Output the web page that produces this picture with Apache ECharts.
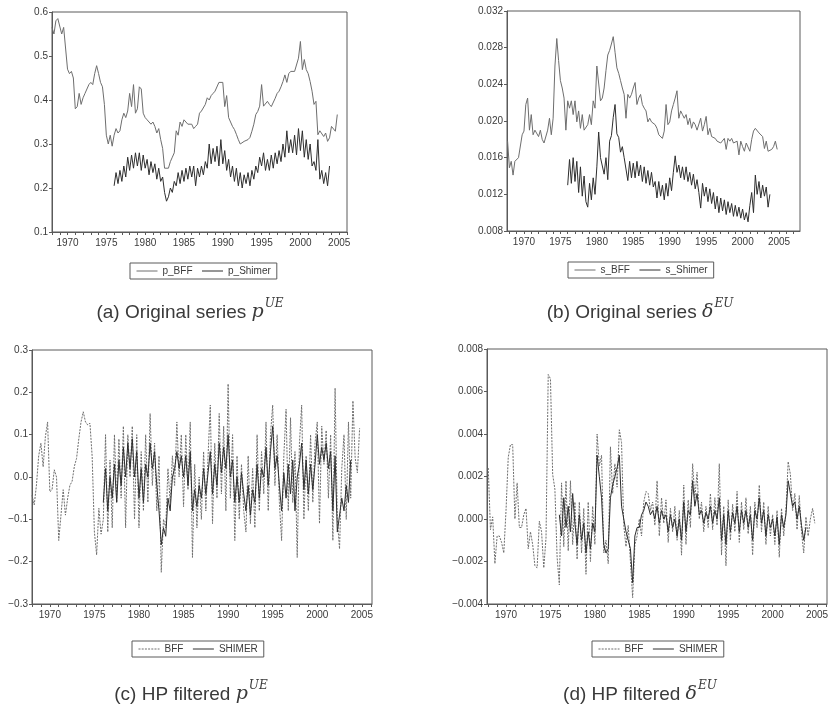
<!DOCTYPE html>
<html><head><meta charset="utf-8">
<script src="https://cdn.jsdelivr.net/npm/echarts@6/dist/echarts.min.js"></script>
<style>html,body{margin:0;padding:0;background:#fff}#c{width:834px;height:708px}</style>
</head><body><div id="c"></div>
<script>
// ---------- tick labels ----------
const yearLabels = [1970, 1975, 1980, 1985, 1990, 1995, 2000, 2005];
const legendA = ['p_BFF', 'p_Shimer'];
const legendB = ['s_BFF', 's_Shimer'];
const legendCD = ['BFF', 'SHIMER'];
const captionA = '(a) Original series ';
const captionB = '(b) Original series ';
const captionC = '(c) HP filtered ';
const captionD = '(d) HP filtered ';

// ---------- data (quarterly observations, first observation year given) ----------
const pBFFStart = 1968.0;
const pBFF = [
0.565,0.55,0.58,0.585, 0.585,0.55,0.565,0.565, 0.47,0.46,0.465,0.45, 0.38,0.385,0.415,0.39,
0.405,0.415,0.425,0.435, 0.44,0.435,0.46,0.478, 0.46,0.44,0.43,0.39, 0.32,0.3,0.32,0.295,
0.32,0.335,0.325,0.33, 0.355,0.37,0.36,0.375, 0.415,0.385,0.435,0.37, 0.38,0.43,0.425,0.37,
0.36,0.355,0.35,0.345, 0.35,0.34,0.325,0.335, 0.31,0.29,0.245,0.245, 0.245,0.26,0.27,0.28,
0.33,0.32,0.35,0.34, 0.355,0.35,0.345,0.345, 0.345,0.335,0.34,0.345, 0.37,0.375,0.375,0.39,
0.405,0.4,0.41,0.415, 0.42,0.42,0.44,0.44, 0.44,0.385,0.41,0.36, 0.35,0.34,0.333,0.322,
0.31,0.3,0.298,0.306, 0.306,0.31,0.315,0.329, 0.345,0.367,0.374,0.386, 0.435,0.386,0.39,0.397,
0.39,0.385,0.382,0.404, 0.415,0.42,0.43,0.442, 0.457,0.44,0.46,0.465, 0.469,0.465,0.461,0.495,
0.533,0.469,0.492,0.469, 0.46,0.442,0.42,0.39, 0.397,0.321,0.33,0.329, 0.317,0.325,0.306,0.314,
0.34,0.34,0.329,0.367];
const pShimerStart = 1976.0;
const pShimer = [
0.205,0.235,0.21,0.24, 0.215,0.25,0.225,0.27, 0.24,0.275,0.245,0.28, 0.25,0.28,0.24,0.275,
0.245,0.265,0.23,0.26, 0.235,0.255,0.22,0.245, 0.215,0.225,0.19,0.17, 0.18,0.2,0.19,0.215,
0.205,0.235,0.21,0.24, 0.215,0.245,0.22,0.25, 0.225,0.25,0.205,0.245, 0.225,0.25,0.23,0.26,
0.245,0.3,0.255,0.29, 0.26,0.295,0.25,0.31, 0.255,0.285,0.24,0.265, 0.225,0.25,0.215,0.245,
0.205,0.235,0.2,0.23, 0.21,0.235,0.205,0.24, 0.22,0.25,0.235,0.27, 0.25,0.28,0.24,0.265,
0.24,0.275,0.245,0.28, 0.255,0.285,0.26,0.3, 0.27,0.33,0.28,0.31, 0.28,0.32,0.275,0.335,
0.285,0.33,0.27,0.31, 0.265,0.3,0.25,0.26, 0.24,0.31,0.22,0.24, 0.21,0.235,0.205,0.25];

const sBFFStart = 1967.75;
const sBFF = [0.0178,
0.0149,0.0156,0.0141,0.0156, 0.0156,0.016,0.016,0.0185, 0.0189,0.0218,0.0225,0.019, 0.0207,0.0185,0.019,0.0192,
0.0183,0.019,0.018,0.0176, 0.0178,0.019,0.0203,0.0185, 0.0203,0.026,0.029,0.0266, 0.0244,0.0236,0.0225,0.019,
0.0222,0.0214,0.0222,0.0207, 0.0222,0.0199,0.0211,0.0192, 0.0207,0.019,0.019,0.0196, 0.0207,0.0196,0.0222,0.0214,
0.026,0.0258,0.0222,0.0225, 0.0236,0.0255,0.0272,0.0277, 0.0284,0.0292,0.0275,0.0258, 0.0252,0.0244,0.0236,0.0229,
0.0203,0.0229,0.0225,0.0229, 0.0236,0.0242,0.0218,0.0225, 0.0229,0.0218,0.0214,0.0211, 0.0199,0.0203,0.0199,0.0199,
0.0196,0.0192,0.0185,0.0185, 0.0181,0.0189,0.0218,0.0196, 0.0199,0.0211,0.0218,0.0225, 0.0233,0.0203,0.0211,0.0207,
0.0203,0.0207,0.0196,0.0203, 0.0192,0.0199,0.0196,0.019, 0.0189,0.0203,0.0189,0.0196, 0.0205,0.0185,0.0192,0.0183,
0.0183,0.0181,0.0178,0.018, 0.0176,0.0174,0.0181,0.0169, 0.0181,0.0178,0.0181,0.0176, 0.0174,0.0178,0.0163,0.0178,
0.0172,0.0167,0.0176,0.0174, 0.0167,0.018,0.0189,0.0192, 0.0192,0.0187,0.0185,0.0183, 0.017,0.0178,0.0167,0.0169,
0.0169,0.0172,0.0178,0.0169];
const sShimerStart = 1976.0;
const sShimer = [
0.0130,0.0158,0.0132,0.0160, 0.0134,0.0156,0.0122,0.0150, 0.0118,0.0140,0.0112,0.0106, 0.0132,0.0114,0.0138,0.0120,
0.0150,0.0188,0.0160,0.0162, 0.0142,0.0160,0.0136,0.0178, 0.0184,0.0204,0.0218,0.0186, 0.0182,0.0166,0.0172,0.0160,
0.0162,0.0135,0.0156,0.0138, 0.0154,0.0138,0.0156,0.0140, 0.0152,0.0134,0.0150,0.0132, 0.0146,0.0130,0.0144,0.0128,
0.0134,0.0116,0.0134,0.0118, 0.0130,0.0114,0.0132,0.0118, 0.0138,0.0124,0.0144,0.0162, 0.0144,0.0152,0.0138,0.0150,
0.0136,0.0150,0.0134,0.0144, 0.0130,0.0142,0.0126,0.0136, 0.0122,0.0105,0.0132,0.0118, 0.0128,0.0112,0.0126,0.0110,
0.0122,0.0104,0.0118,0.0100, 0.0116,0.0102,0.0114,0.0098, 0.0112,0.0100,0.0110,0.0096, 0.0108,0.0096,0.0106,0.0094,
0.0104,0.0092,0.0100,0.0090, 0.0108,0.0122,0.0100,0.0141, 0.0120,0.0134,0.0116,0.0130, 0.0118,0.0128,0.0106,0.0120];

const hpPBFFStart = 1968.0;
const hpPBFF = [
-0.043,-0.066,-0.019,0.05, 0.08,0.024,0.095,0.13, -0.035,-0.03,0.017,0.0, -0.15,-0.09,-0.03,-0.09,
-0.05,-0.02,-0.01,0.025, 0.044,0.09,0.13,0.154, 0.13,0.123,0.127,0.048, -0.13,-0.184,-0.074,-0.135,
-0.10,0.10,-0.13,0.04, -0.12,0.10,-0.06,0.09, -0.05,0.12,-0.12,0.10, 0.0,0.12,-0.10,0.10,
-0.12,0.06,-0.08,0.10, -0.06,0.15,-0.02,0.08, -0.08,0.05,-0.225,-0.10, -0.12,0.02,-0.06,0.05,
-0.02,0.13,0.0,0.10, -0.07,0.10,-0.03,0.13, -0.19,0.03,-0.12,0.0, -0.10,0.06,-0.08,0.05,
0.17,-0.11,0.08,-0.05, 0.15,-0.04,0.12,-0.08, 0.22,-0.05,0.10,-0.15, 0.05,-0.10,0.03,-0.08,
-0.13,0.05,-0.11,0.02, -0.12,0.10,-0.08,0.06, -0.04,0.13,-0.08,0.10, 0.17,-0.02,0.10,-0.06,
-0.15,0.05,0.16,-0.08, 0.14,-0.06,0.06,-0.19, 0.08,0.17,-0.10,0.05, -0.08,0.10,-0.06,0.08,
0.13,-0.11,0.12,0.03, 0.11,-0.05,0.10,-0.15, 0.21,-0.10,-0.17,0.02, 0.10,-0.10,0.13,-0.05,
0.18,0.045,0.01,0.115];
const hpPShimerStart = 1976.0;
const hpPShimer = [
-0.06,0.02,-0.08,0.0, -0.05,0.03,-0.06,0.04, -0.02,0.07,0.0,0.08, 0.02,0.09,0.0,0.06,
-0.05,0.02,-0.06,0.03, 0.0,0.08,0.02,0.06, -0.02,-0.08,-0.16,-0.12, -0.14,-0.05,-0.08,0.0,
0.02,0.06,0.02,0.05, 0.0,0.05,-0.02,0.06, -0.08,-0.03,-0.07,-0.02, -0.05,0.02,-0.04,0.01,
0.06,-0.04,0.03,-0.02, 0.08,0.01,0.07,0.02, 0.10,0.0,0.04,-0.06, 0.0,-0.06,0.01,-0.04,
-0.08,-0.02,-0.09,-0.03, -0.06,0.03,-0.05,0.02, 0.0,0.07,-0.02,0.06, 0.12,0.02,0.05,-0.02,
-0.08,0.01,-0.05,0.03, -0.04,0.04,-0.08,0.0, 0.03,0.08,-0.03,0.04, -0.04,0.03,-0.03,0.03,
0.10,0.03,0.07,0.04, 0.08,0.02,0.06,-0.08, 0.05,-0.13,-0.09,-0.05, -0.08,-0.02,-0.06,0.04];

const hpSBFFStart = 1968.0;
const hpSBFF = [
0.0024,-0.0005,0.0001,-0.0021, -0.0008,-0.0008,-0.0011,-0.0016, 0.0004,0.0029,0.0035,0.0035, 0.0000,0.0017,-0.0004,-0.0004,
0.0002,0.0005,-0.0014,-0.0006, -0.0012,-0.0022,-0.0023,-0.0001, -0.0006,-0.0023,-0.0009,0.0068, 0.0066,0.0021,0.0014,-0.0018,
-0.0031,0.0017,-0.0013,0.0018, -0.0015,0.0018,-0.0012,0.0008, -0.0019,0.0008,-0.0016,0.0005, -0.0026,0.0008,-0.0020,0.0006,
-0.0012,0.0040,0.0025,0.0030, -0.0016,-0.0010,-0.0021,0.0034, 0.0012,0.0026,0.0015,0.0042, 0.0036,-0.0003,-0.0013,-0.0003,
-0.0020,-0.0037,-0.0012,-0.0008, 0.0000,-0.0008,0.0008,0.0013, 0.0012,0.0004,0.0008,-0.0003, 0.0018,-0.0008,0.0010,-0.0002,
0.0009,-0.0011,0.0005,-0.0006, 0.0006,-0.0010,0.0004,-0.0017, 0.0016,-0.0012,0.0009,-0.0004, 0.0026,0.0010,0.0022,0.0000,
0.0008,-0.0006,0.0006,-0.0004, 0.0012,-0.0005,0.0010,-0.0003, 0.0026,-0.0017,0.0006,-0.0022, 0.0009,-0.0010,0.0007,-0.0006,
0.0013,-0.0011,0.0008,-0.0005, 0.0010,-0.0007,0.0006,-0.0017, 0.0008,-0.0004,0.0016,-0.0006, 0.0008,-0.0012,0.0006,-0.0008,
0.0002,-0.0012,0.0004,-0.0018, 0.0005,-0.0008,0.0004,0.0027, 0.0021,0.0004,0.0012,-0.0005, 0.0011,-0.0006,-0.0016,0.0001,
-0.0008,0.0000,0.0005,-0.0002];
const hpSShimerStart = 1976.0;
const hpSShimer = [
0.0002,-0.0008,0.0010,-0.0004, 0.0006,-0.0006,0.0012,-0.0002, -0.0012,0.0002,-0.0010,-0.0002, -0.0016,-0.0006,-0.0014,-0.0002,
-0.0006,0.0030,0.0020,0.0010, -0.0012,-0.0016,-0.0014,0.0010, 0.0016,0.0020,0.0024,0.0030, 0.0006,0.0000,-0.0006,-0.0010,
-0.0014,-0.0030,-0.0008,-0.0004, -0.0004,0.0002,0.0004,0.0008, 0.0006,0.0002,0.0004,0.0000, 0.0006,-0.0002,0.0004,0.0000,
0.0002,-0.0006,0.0002,-0.0004, 0.0000,-0.0008,0.0000,-0.0010, 0.0008,-0.0006,0.0004,0.0002, 0.0018,0.0006,0.0012,0.0002,
0.0004,-0.0002,0.0003,0.0000, 0.0006,-0.0002,0.0004,0.0000, 0.0010,-0.0010,0.0002,-0.0012, 0.0004,-0.0006,0.0003,-0.0002,
0.0006,-0.0006,0.0004,-0.0002, 0.0004,-0.0004,0.0002,-0.0010, 0.0004,0.0000,0.0010,-0.0002, 0.0004,-0.0008,0.0002,-0.0004,
0.0000,-0.0008,0.0001,-0.0012, 0.0002,-0.0004,0.0002,0.0018, 0.0012,0.0006,0.0008,0.0000, 0.0006,-0.0003,-0.0010,-0.0004];

// ---------- build ----------
const STEP = 0.25;
function pairs(start, vals) { return vals.map((v, i) => [start + i * STEP, v]); }
function yearsBetween(a, b) { const out = []; for (let y = Math.ceil(a); y <= b; y++) out.push(y); return out; }

const FONT = 'Liberation Sans';
const TXT = '#3a3a3a';
const FRAME = '#5a5a5a';
const C_BFF = '#6e6e6e';
const C_SH = '#2e2e2e';

const grids = [
  { left: 52, top: 12, width: 295, height: 220, xmin: 1968, xmax: 2006 },
  { left: 507, top: 11, width: 293, height: 220, xmin: 1967.67, xmax: 2007.88 },
  { left: 32, top: 350, width: 340, height: 254, xmin: 1968, xmax: 2006.14 },
  { left: 487, top: 349, width: 340, height: 255, xmin: 1967.86, xmax: 2006.12 }
];
const yCfg = [
  { min: 0.1, max: 0.6, interval: 0.1, dec: 1 },
  { min: 0.008, max: 0.032, interval: 0.004, dec: 3 },
  { min: -0.3, max: 0.3, interval: 0.1, dec: 1 },
  { min: -0.004, max: 0.008, interval: 0.002, dec: 3 }
];
function fmt(dec) {
  return v => { const r = Number(v.toFixed(dec)); return (r < 0 ? '\u2212' : '') + Math.abs(r).toFixed(dec); };
}

const option = {
  backgroundColor: '#fff',
  animation: false,
  grid: grids.map(g => ({ left: g.left, top: g.top, width: g.width, height: g.height, show: true, borderColor: FRAME, borderWidth: 1, backgroundColor: 'transparent' })),
  xAxis: grids.map((g, i) => ({
    type: 'value', gridIndex: i, min: g.xmin, max: g.xmax,
    axisLine: { show: true, onZero: false, lineStyle: { color: FRAME, width: 1 } },
    axisTick: { show: true, length: 3, inside: false, customValues: yearsBetween(g.xmin, g.xmax), lineStyle: { color: FRAME } },
    axisLabel: { customValues: yearLabels, formatter: v => String(Math.round(v)), fontFamily: FONT, fontSize: 10, color: TXT, margin: 6 },
    splitLine: { show: false }
  })),
  yAxis: yCfg.map((c, i) => ({
    type: 'value', gridIndex: i, min: c.min, max: c.max, interval: c.interval,
    axisLine: { show: true, onZero: false, lineStyle: { color: FRAME, width: 1 } },
    axisTick: { show: true, length: 3, lineStyle: { color: FRAME } },
    axisLabel: { formatter: fmt(c.dec), fontFamily: FONT, fontSize: 10, color: TXT, margin: 4 },
    splitLine: { show: false }
  })),
  legend: [
    { data: legendA, left: 130, top: 263 },
    { data: legendB, left: 568, top: 262 },
    { data: legendCD, left: 132, top: 641 },
    { data: legendCD, left: 592, top: 641 }
  ].map(l => Object.assign(l, {
    orient: 'horizontal', borderColor: FRAME, borderWidth: 1, borderRadius: 0, padding: [3, 6, 3, 6],
    itemGap: 9, itemWidth: 21, itemHeight: 6, selectedMode: false,
    itemStyle: { opacity: 0 },
    lineStyle: { width: 1 },
    textStyle: { fontFamily: FONT, fontSize: 10, color: TXT }
  })),
  series: [
    { name: 'p_BFF', data: pairs(pBFFStart, pBFF), xAxisIndex: 0, yAxisIndex: 0, color: C_BFF },
    { name: 'p_Shimer', data: pairs(pShimerStart, pShimer), xAxisIndex: 0, yAxisIndex: 0, color: C_SH },
    { name: 's_BFF', data: pairs(sBFFStart, sBFF), xAxisIndex: 1, yAxisIndex: 1, color: C_BFF },
    { name: 's_Shimer', data: pairs(sShimerStart, sShimer), xAxisIndex: 1, yAxisIndex: 1, color: C_SH },
    { name: 'BFF', data: pairs(hpPBFFStart, hpPBFF), xAxisIndex: 2, yAxisIndex: 2, color: C_BFF, dash: [2, 1.2] },
    { name: 'SHIMER', data: pairs(hpPShimerStart, hpPShimer), xAxisIndex: 2, yAxisIndex: 2, color: C_SH },
    { name: 'BFF', data: pairs(hpSBFFStart, hpSBFF), xAxisIndex: 3, yAxisIndex: 3, color: C_BFF, dash: [2, 1.2] },
    { name: 'SHIMER', data: pairs(hpSShimerStart, hpSShimer), xAxisIndex: 3, yAxisIndex: 3, color: C_SH }
  ].map(s => ({
    type: 'line', name: s.name, data: s.data, xAxisIndex: s.xAxisIndex, yAxisIndex: s.yAxisIndex,
    symbol: 'none', showSymbol: false, smooth: false,
    lineStyle: { color: s.color, width: 1, type: s.dash ? s.dash : 'solid' },
    itemStyle: { color: s.color },
    emphasis: { disabled: true }
  })),
  graphic: [
    { x: 190, y: 310, text: captionA, sym: 'p', sup: 'UE' },
    { x: 640, y: 310, text: captionB, sym: '\u03b4', sup: 'EU' },
    { x: 191, y: 692, text: captionC, sym: 'p', sup: 'UE' },
    { x: 640, y: 692, text: captionD, sym: '\u03b4', sup: 'EU' }
  ].map(c => ({
    type: 'text', x: c.x, y: c.y, silent: true,
    style: {
      text: '{n|' + c.text + '}{m|' + c.sym + '}{s|' + c.sup + '}',
      align: 'center', verticalAlign: 'middle',
      rich: {
        n: { fontFamily: FONT, fontSize: 19, fill: TXT, lineHeight: 24, verticalAlign: 'bottom' },
        m: { fontFamily: 'DejaVu Serif', fontStyle: 'italic', fontSize: 19, fill: TXT, lineHeight: 24, verticalAlign: 'bottom' },
        s: { fontFamily: 'DejaVu Serif', fontStyle: 'italic', fontSize: 12, fill: TXT, lineHeight: 24, verticalAlign: 'top', padding: [0, 0, 0, 1] }
      }
    }
  }))
};

const chart = echarts.init(document.getElementById('c'), null, { renderer: 'canvas' });
chart.setOption(option);
</script>
</body></html>
